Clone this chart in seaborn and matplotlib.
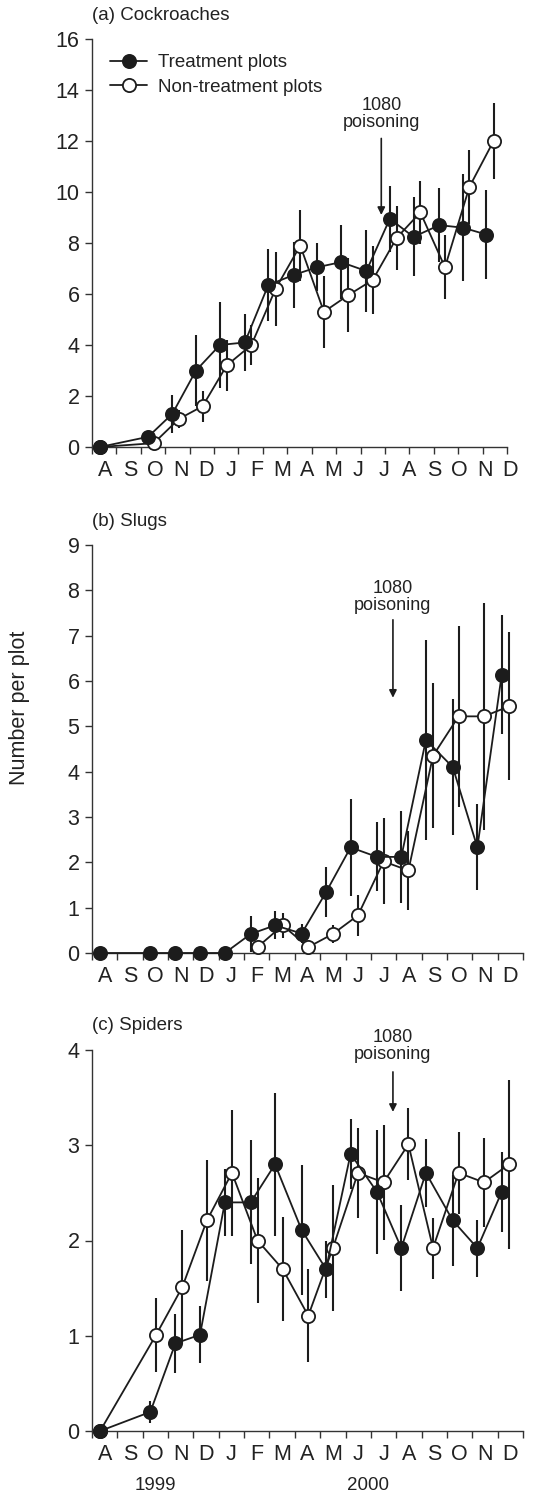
import numpy as np
import pandas as pd
import matplotlib
matplotlib.use("Agg")
import matplotlib.pyplot as plt
import seaborn as sns

# month labels along the x axis (Aug 1999 - Dec 2000), one month per unit
months = ["A", "S", "O", "N", "D", "J", "F", "M", "A", "M", "J", "J", "A", "S", "O", "N", "D"]
years = ["1999", "2000"]
year_pos = [2.5, 10.9]

# sampling dates in month units (0 = start of August 1999)
treat_x = [0.32, 2.30, 3.29, 4.26, 5.24, 6.26, 7.22, 8.27, 9.23, 10.2, 11.24, 12.2, 13.17, 14.23, 15.2, 16.16]
ctrl_x = [0.32, 2.53, 3.56, 4.53, 5.52, 6.53, 7.52, 8.53, 9.5, 10.49, 11.5, 12.48, 13.45, 14.46, 15.46, 16.45]

# (a) cockroaches
roach_treat = [0, 0.4, 1.3, 3.0, 4.0, 4.1, 6.35, 6.75, 7.05, 7.25, 6.9, 8.95, 8.24, 8.7, 8.6, 8.33]
roach_treat_se = [0, 0, 0.75, 1.4, 1.7, 1.1, 1.4, 1.3, 0.95, 1.45, 1.6, 1.3, 1.55, 1.45, 2.1, 1.75]
roach_ctrl = [0, 0.15, 1.1, 1.6, 3.2, 4.0, 6.2, 7.9, 5.3, 5.95, 6.55, 8.2, 9.2, 7.05, 10.2, 12.0]
roach_ctrl_se = [0, 0.1, 0.35, 0.6, 1.0, 0.8, 1.45, 1.4, 1.4, 1.45, 1.35, 1.25, 1.25, 1.25, 1.45, 1.5]

# (b) slugs
slug_treat = [0, 0, 0, 0, 0, 0.42, 0.61, 0.43, 1.34, 2.33, 2.12, 2.12, 4.7, 4.1, 2.33, 6.14]
slug_treat_se = [0, 0, 0, 0, 0, 0.39, 0.31, 0.2, 0.55, 1.07, 0.76, 1.02, 2.2, 1.5, 0.95, 1.32]
slug_ctrl = [np.nan] * 5 + [0.13, 0.61, 0.13, 0.42, 0.83, 2.02, 1.82, 4.35, 5.22, 5.22, 5.44]
slug_ctrl_se = [np.nan] * 5 + [0, 0.27, 0, 0.19, 0.45, 0.95, 0.87, 1.6, 2.0, 2.5, 1.63]

# (c) spiders
spider_treat = [0, 0.2, 0.92, 1.01, 2.40, 2.40, 2.80, 2.11, 1.70, 2.91, 2.51, 1.92, 2.71, 2.21, 1.92, 2.51]
spider_treat_se = [0, 0.12, 0.31, 0.3, 0.35, 0.65, 0.75, 0.68, 0.3, 0.37, 0.65, 0.45, 0.36, 0.48, 0.3, 0.42]
spider_ctrl = [0, 1.01, 1.51, 2.21, 2.71, 2.0, 1.70, 1.21, 1.92, 2.71, 2.61, 3.01, 1.92, 2.71, 2.61, 2.80]
spider_ctrl_se = [0, 0.39, 0.6, 0.63, 0.66, 0.66, 0.55, 0.49, 0.66, 0.47, 0.6, 0.38, 0.32, 0.43, 0.47, 0.89]

# 1080 poisoning arrow: x, tail y, tip y, text y
poison_a = (11.85, 12.1, 9.1, 13.05)
poison_b = (11.87, 7.35, 5.63, 7.86)
poison_c = (11.87, 3.77, 3.35, 4.04)

ink = "#1c1c1c"
W, H = 533, 1495

sns.set_theme(style="ticks")
plt.rcParams["font.family"] = ["Liberation Sans", "DejaVu Sans"]
plt.rcParams["axes.edgecolor"] = "#333333"
plt.rcParams["axes.linewidth"] = 1.0

fig = plt.figure(figsize=(W / 100, H / 100), dpi=100)


def px_axes(left, top, right, bottom):
    return fig.add_axes([left / W, 1 - bottom / H, (right - left) / W, (bottom - top) / H])


def draw_panel(ax, treat, treat_se, ctrl, ctrl_se, ymax, ystep, title, poison, xmax, label_scale):
    df_t = pd.DataFrame({"x": treat_x, "y": treat, "se": treat_se}).dropna()
    df_c = pd.DataFrame({"x": ctrl_x, "y": ctrl, "se": ctrl_se}).dropna()

    for df in (df_c, df_t):
        ax.errorbar(df["x"], df["y"], yerr=df["se"], fmt="none", ecolor=ink,
                    elinewidth=1.5, capsize=0, zorder=1)

    sns.lineplot(data=df_c, x="x", y="y", ax=ax, color=ink, lw=1.3, marker="o",
                 markersize=9.5, markerfacecolor="white", markeredgecolor=ink,
                 markeredgewidth=1.3, zorder=3, clip_on=False, legend=False)
    h_c = ax.lines[-1]
    sns.lineplot(data=df_t, x="x", y="y", ax=ax, color=ink, lw=1.3, marker="o",
                 markersize=9.5, markerfacecolor=ink, markeredgecolor=ink,
                 markeredgewidth=1.3, zorder=4, clip_on=False, legend=False)
    h_t = ax.lines[-1]

    ax.set_xlim(0, xmax)
    ax.set_ylim(0, ymax)
    ax.spines["bottom"].set_bounds(0, 17)
    ax.spines["top"].set_visible(False)
    ax.spines["right"].set_visible(False)
    ax.set_xlabel("")
    ax.set_ylabel("")

    ax.set_yticks(np.arange(0, ymax + 0.1, ystep))
    ax.set_xticks(np.arange(0, 18))
    ax.set_xticks((np.arange(17) + 0.5) * label_scale, minor=True)
    ax.set_xticklabels(months, minor=True)
    ax.tick_params(axis="both", which="major", direction="out", length=5, width=1,
                   color="#333333", labelsize=15.5, pad=4, labelcolor="#222222")
    ax.tick_params(axis="x", which="major", labelbottom=False)
    ax.tick_params(axis="x", which="minor", length=0, labelsize=15.5, pad=9,
                   labelcolor="#222222")

    ax.text(0, 1 + 24 / (ax.get_position().height * H), title, transform=ax.transAxes,
            ha="left", va="center", fontsize=13.5, color="#222222")

    px, tail, tip, ty = poison
    ax.annotate("", xy=(px, tip), xytext=(px, tail),
                arrowprops=dict(arrowstyle="-|>", color=ink, lw=1.2,
                                mutation_scale=11, shrinkA=0, shrinkB=0))
    ax.text(px, ty, "1080\npoisoning", ha="center", va="center", fontsize=13,
            linespacing=1.0, color="#222222", clip_on=False)
    return h_t, h_c


# panel (a) is drawn a little narrower than (b) and (c), as in the original
ax_a = px_axes(92, 39, 92 + 415 * 17.4 / 17, 447)
ax_b = px_axes(92, 545, 523, 953)
ax_c = px_axes(92, 1050, 523, 1431)

h_t, h_c = draw_panel(ax_a, roach_treat, roach_treat_se, roach_ctrl, roach_ctrl_se,
                      16, 2, "(a) Cockroaches", poison_a, 17.4, 431 / 415)
draw_panel(ax_b, slug_treat, slug_treat_se, slug_ctrl, slug_ctrl_se,
           9, 1, "(b) Slugs", poison_b, 17, 1)
draw_panel(ax_c, spider_treat, spider_treat_se, spider_ctrl, spider_ctrl_se,
           4, 1, "(c) Spiders", poison_c, 17, 1)

ax_a.legend(handles=[h_t, h_c], labels=["Treatment plots", "Non-treatment plots"],
            loc="upper left", bbox_to_anchor=(18 / 425, 1 - 15 / 408), frameon=False,
            fontsize=13.5, handlelength=2.0, handletextpad=0.55, labelspacing=0.4,
            borderpad=0, borderaxespad=0, labelcolor="#222222")

for yr, xp in zip(years, year_pos):
    ax_c.text(xp, -55 / 381, yr, transform=ax_c.get_xaxis_transform(),
              ha="center", va="center", fontsize=13.5, color="#222222")

fig.text(20 / W, 1 - 708 / H, "Number per plot", rotation=90, ha="center",
         va="center", fontsize=15.5, color="#222222")

fig.savefig("out.png", dpi=100)
